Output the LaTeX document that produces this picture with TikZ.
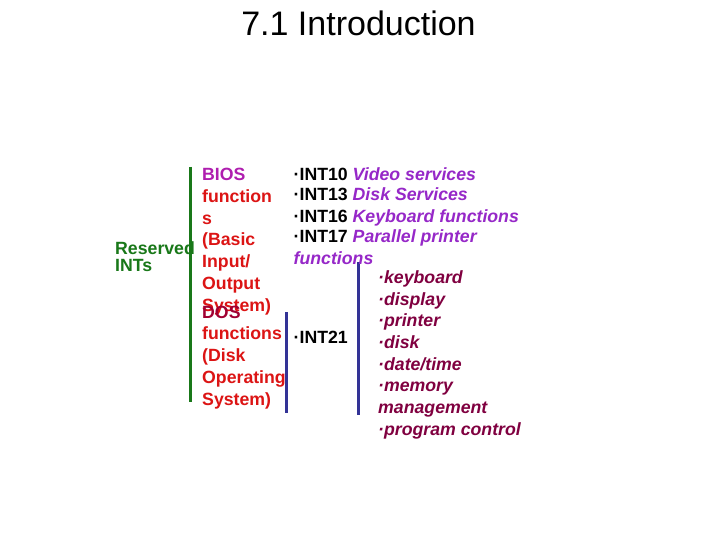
\documentclass[tikz,border=0pt]{standalone}
\usepackage{fontspec}
\setmainfont{Liberation Sans}[BoldFont={Liberation Sans Bold}, ItalicFont={Liberation Sans Italic}, BoldItalicFont={Liberation Sans Bold Italic}]
\usepackage{xcolor}
\usetikzlibrary{positioning}

\definecolor{resgreen}{RGB}{25,120,25}
\definecolor{barnavy}{RGB}{51,51,150}
\definecolor{biospurple}{RGB}{175,30,175}
\definecolor{intpurple}{RGB}{150,40,200}
\definecolor{fnred}{RGB}{220,20,20}
\definecolor{dosmaroon}{RGB}{160,0,50}
\definecolor{submaroon}{RGB}{128,0,64}

\begin{document}
\begin{tikzpicture}[
    x=1pt, y=-1pt,
    every node/.style={inner sep=0pt, align=left, anchor=base west},
    body/.style={font=\fontsize{17.7}{21.7}\selectfont\bfseries},
    title/.style={font=\fontsize{34}{36}\selectfont, anchor=base},
    bar/.style={line width=3pt},
    desc/.style={color=intpurple}
]
\fill[white] (0,0) rectangle (720,540);
\useasboundingbox (0,0) rectangle (720,540);
% Title
\node[title] (ttl) at (358.5,36) {7.1 Introduction};
% Bracket bars
\coordinate (gtop) at (190,167);
\coordinate (gbot) at (190,402);
\coordinate (ntop) at (286,312);
\coordinate (nbot) at (286,413);
\coordinate (stop) at (358,262);
\coordinate (sbot) at (358,415);
\draw[bar, resgreen] (gtop) -- (gbot);
\draw[bar, barnavy] (ntop) -- (nbot);
\draw[bar, barnavy] (stop) -- (sbot);
% Left labels (base = last line)
\node[font=\fontsize{17.7}{17}\selectfont\bfseries, text=resgreen] (res) at (115,271) {Reserved\\INTs};
\node[body, text=fnred] (bios) at (202,311) {\textcolor{biospurple}{BIOS}\\function\\s\\(Basic\\Input/\\Output\\System)};
\node[body, text=fnred] (dos) at (202,405) {\textcolor{dosmaroon}{DOS}\\functions\\(Disk\\Operating\\System)};
% BIOS interrupts
\node[font=\fontsize{17.7}{21}\selectfont\bfseries] (ints) at (293.5,264) {%
  ·INT10 \textcolor{intpurple}{\itshape Video services}\\
  ·INT13 \textcolor{intpurple}{\itshape Disk Services}\\
  ·INT16 \textcolor{intpurple}{\itshape Keyboard functions}\\
  ·INT17 \textcolor{intpurple}{\itshape Parallel printer}\\
  \textcolor{intpurple}{\itshape functions}};
% DOS interrupt
\node[body] (int21) at (293.5,343) {·INT21};
\node[text=submaroon, font=\fontsize{17.7}{21.65}\selectfont\bfseries\itshape] (subs) at (378,435) {%
  ·keyboard\\·display\\·printer\\·disk\\·date/time\\·memory\\management\\·program control};
\end{tikzpicture}
\end{document}
